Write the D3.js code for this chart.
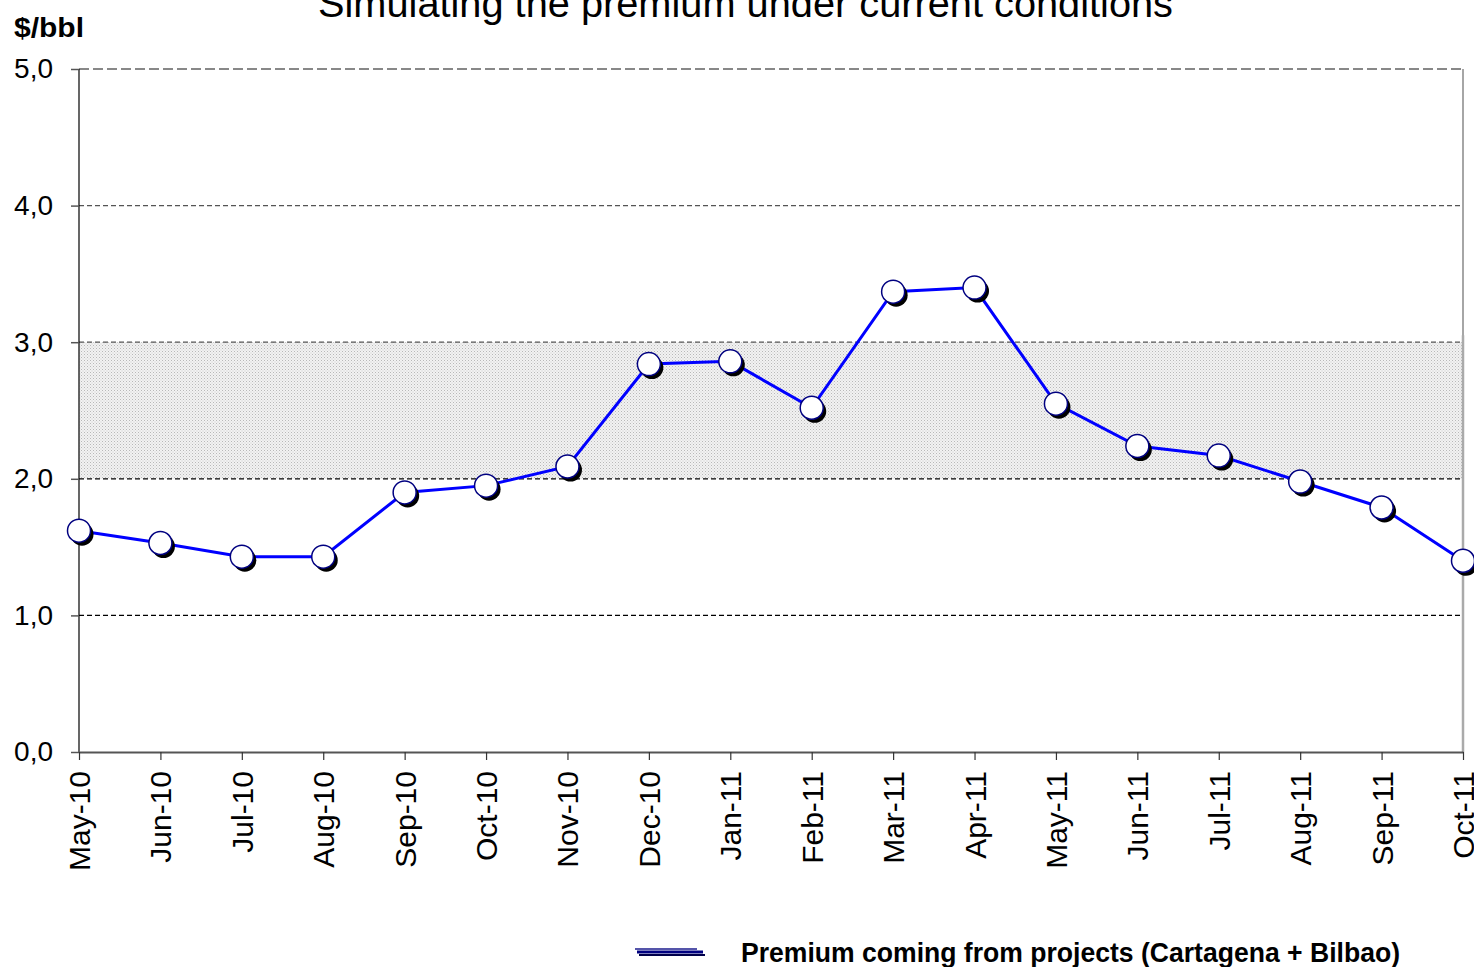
<!DOCTYPE html>
<html>
<head>
<meta charset="utf-8">
<script src="https://cdn.jsdelivr.net/npm/d3@7"></script>
<style>
  body { margin: 0; background: #fff; }
  text { font-family: "Liberation Sans", Arial, sans-serif; }
</style>
</head>
<body>
<div id="chart"></div>
<script>
// chart data
var months = ["May-10", "Jun-10", "Jul-10", "Aug-10", "Sep-10", "Oct-10", "Nov-10", "Dec-10",
    "Jan-11", "Feb-11", "Mar-11", "Apr-11", "May-11", "Jun-11", "Jul-11", "Aug-11", "Sep-11", "Oct-11"];
var premium = [1.62, 1.53, 1.43, 1.43, 1.90, 1.95, 2.09, 2.84,
    2.86, 2.52, 3.37, 3.40, 2.55, 2.24, 2.17, 1.98, 1.79, 1.40];
var yTicks = [0, 1, 2, 3, 4, 5];
var band = [2, 3];
var title = "Simulating the premium under current conditions";
var yLabel = "$/bbl";
var legendLabel = "Premium coming from projects (Cartagena + Bilbao)";

var W = 1474, H = 967;
var plot = { left: 79, right: 1463, top: 69, bottom: 752 };

var svg = d3.select("#chart").append("svg")
    .attr("width", W)
    .attr("height", H);

var x = d3.scalePoint().domain(months).range([plot.left, plot.right]);
var y = d3.scaleLinear().domain([0, 5]).range([plot.bottom, plot.top]);

// dotted fill for the 2-3 band
var defs = svg.append("defs");
var pat = defs.append("pattern")
    .attr("id", "dots")
    .attr("width", 3).attr("height", 3)
    .attr("patternUnits", "userSpaceOnUse");
pat.append("rect").attr("width", 3).attr("height", 3).attr("fill", "#f2f2f2");
pat.append("rect").attr("x", 0).attr("y", 0).attr("width", 1).attr("height", 1).attr("fill", "#b8b8b8");
pat.append("rect").attr("x", 1.5).attr("y", 1.5).attr("width", 1).attr("height", 1).attr("fill", "#cccccc");

svg.append("rect")
    .attr("x", plot.left)
    .attr("y", y(band[1]))
    .attr("width", plot.right - plot.left)
    .attr("height", y(band[0]) - y(band[1]))
    .attr("fill", "url(#dots)");

// gridlines
svg.selectAll(".grid")
    .data(yTicks.filter(function (d) { return d > 0; }))
    .enter().append("line")
    .attr("class", "grid")
    .attr("x1", plot.left).attr("x2", plot.right)
    .attr("y1", function (d) { return y(d); })
    .attr("y2", function (d) { return y(d); })
    .attr("stroke", function (d) { return d == 5 ? "#888" : d >= 3 ? "#555" : "#000"; })
    .attr("stroke-width", function (d) { return d == 5 ? 2 : 1.2; })
    .attr("stroke-dasharray", function (d) { return d == 5 ? "10,4" : "5,3"; });

// right border
svg.append("line")
    .attr("x1", plot.right).attr("x2", plot.right)
    .attr("y1", plot.top).attr("y2", plot.bottom)
    .attr("stroke", "#888").attr("stroke-width", 1.5);
svg.append("line")
    .attr("x1", plot.right).attr("x2", plot.right)
    .attr("y1", y(3.05)).attr("y2", plot.bottom)
    .attr("stroke", "#aaa").attr("stroke-width", 2.5);

// axes
var yAxis = d3.axisLeft(y)
    .tickValues(yTicks)
    .tickSize(8)
    .tickPadding(8)
    .tickFormat(function (d) { return d3.format(".1f")(d).replace(".", ","); });

var gy = svg.append("g")
    .attr("transform", "translate(" + plot.left + ",0)")
    .call(yAxis);
gy.select(".domain").attr("stroke", "#000").attr("stroke-width", 1.2)
    .attr("d", "M0," + plot.top + "V" + plot.bottom);
gy.selectAll(".tick line").attr("stroke", "#555").attr("stroke-width", 1.5);
gy.selectAll("text")
    .attr("font-size", 28)
    .attr("fill", "#000")
    .style("font-family", "'Liberation Sans', Arial, sans-serif")
    .attr("x", -26);

var xAxis = d3.axisBottom(x).tickSize(8).tickSizeOuter(0);
var gx = svg.append("g")
    .attr("transform", "translate(0," + plot.bottom + ")")
    .call(xAxis);
gx.select(".domain").attr("stroke", "#555").attr("stroke-width", 2);
gx.selectAll(".tick line").attr("stroke", "#333").attr("stroke-width", 1.2);
gx.selectAll("text")
    .attr("font-size", 30)
    .attr("fill", "#000")
    .style("font-family", "'Liberation Sans', Arial, sans-serif")
    .attr("text-anchor", "end")
    .attr("transform", "rotate(-90)")
    .attr("x", -19)
    .attr("y", 0)
    .attr("dy", "0.35em");

// series line
var line = d3.line()
    .x(function (d, i) { return x(months[i]); })
    .y(function (d) { return y(d); });

svg.append("path")
    .datum(premium)
    .attr("d", line)
    .attr("fill", "none")
    .attr("stroke", "#0000ff")
    .attr("stroke-width", 3);

// markers with shadow
var pts = svg.selectAll(".pt")
    .data(premium)
    .enter().append("g")
    .attr("class", "pt")
    .attr("transform", function (d, i) { return "translate(" + x(months[i]) + "," + y(d) + ")"; });
pts.append("circle")
    .attr("cx", 3).attr("cy", 3.5).attr("r", 11.5)
    .attr("fill", "#000");
pts.append("circle")
    .attr("r", 11.5)
    .attr("fill", "#fff")
    .attr("stroke", "#000080")
    .attr("stroke-width", 1.5);

// titles
svg.append("text")
    .attr("x", 318).attr("y", 17)
    .attr("textLength", 855)
    .attr("lengthAdjust", "spacingAndGlyphs")
    .attr("font-size", 38)
    .attr("fill", "#000")
    .text(title);

svg.append("text")
    .attr("x", 14).attr("y", 37)
    .attr("textLength", 70)
    .attr("lengthAdjust", "spacingAndGlyphs")
    .attr("font-size", 27)
    .attr("font-weight", "bold")
    .text(yLabel);

// legend
var lg = svg.append("g").attr("transform", "translate(635,952)");
lg.append("line").attr("x1", 0).attr("x2", 62).attr("y1", -3).attr("y2", -3)
    .attr("stroke", "#5555aa").attr("stroke-width", 2);
lg.append("line").attr("x1", 2).attr("x2", 68).attr("y1", 0).attr("y2", 0)
    .attr("stroke", "#000080").attr("stroke-width", 3);
lg.append("line").attr("x1", 4).attr("x2", 70).attr("y1", 3).attr("y2", 3)
    .attr("stroke", "#00004a").attr("stroke-width", 2);
lg.append("text")
    .attr("x", 106).attr("y", 10)
    .attr("textLength", 659)
    .attr("lengthAdjust", "spacingAndGlyphs")
    .attr("font-size", 27)
    .attr("font-weight", "bold")
    .text(legendLabel);
</script>
</body>
</html>
